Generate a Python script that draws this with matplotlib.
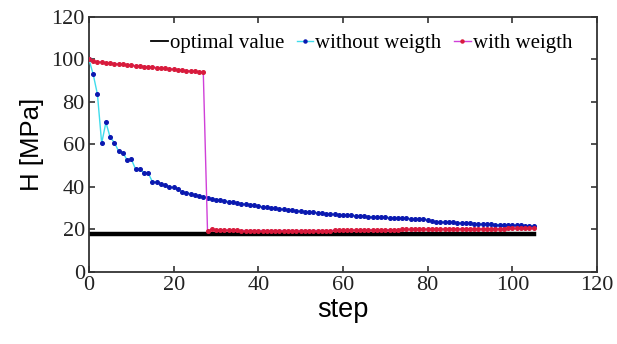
import matplotlib
matplotlib.use("Agg")
import matplotlib.pyplot as plt
import numpy as np

# optimisation history of H per step
steps = np.arange(106)
optimal_value = 18.0

without_weigth = [
    100.0, 93.0, 83.6, 60.6, 70.4, 63.4, 60.9, 56.9, 56.2, 52.7,
    53.0, 48.5, 48.5, 46.7, 46.5, 42.4, 42.4, 41.3, 41.0, 39.9,
    39.8, 38.9, 37.8, 37.2, 36.9, 36.3, 35.8, 35.3, 34.9, 34.5,
    34.1, 33.8, 33.5, 33.1, 32.8, 32.5, 32.2, 31.9, 31.6, 31.3,
    31.0, 30.7, 30.4, 30.2, 29.9, 29.7, 29.5, 29.2, 29.0, 28.8,
    28.6, 28.4, 28.2, 28.0, 27.8, 27.6, 27.4, 27.3, 27.1, 27.0,
    26.8, 26.7, 26.6, 26.5, 26.3, 26.2, 26.1, 26.0, 25.9, 25.8,
    25.7, 25.6, 25.5, 25.4, 25.3, 25.2, 25.1, 25.0, 24.9, 24.8,
    24.7, 23.8, 23.7, 23.6, 23.5, 23.4, 23.3, 23.2, 23.1, 23.0,
    22.9, 22.8, 22.7, 22.6, 22.5, 22.4, 22.3, 22.3, 22.2, 22.1,
    22.0, 21.9, 21.9, 21.8, 21.7, 21.6,
]

with_weigth = [
    100.2, 99.3, 99.0, 98.7, 98.5, 98.3, 98.1, 97.9, 97.7, 97.5,
    97.3, 97.1, 96.9, 96.7, 96.6, 96.4, 96.2, 96.0, 95.8, 95.6,
    95.4, 95.2, 95.0, 94.8, 94.6, 94.4, 94.2, 94.0, 19.2, 20.1,
    19.9, 19.8, 19.7, 19.7, 19.6, 19.6, 19.5, 19.5, 19.5, 19.5,
    19.5, 19.5, 19.5, 19.5, 19.5, 19.5, 19.5, 19.5, 19.5, 19.5,
    19.5, 19.5, 19.5, 19.5, 19.5, 19.5, 19.5, 19.5, 19.6, 19.6,
    19.6, 19.6, 19.7, 19.7, 19.7, 19.7, 19.8, 19.8, 19.8, 19.8,
    19.9, 19.9, 19.9, 19.9, 20.0, 20.0, 20.0, 20.0, 20.0, 20.1,
    20.1, 20.1, 20.1, 20.2, 20.2, 20.2, 20.2, 20.2, 20.3, 20.3,
    20.3, 20.3, 20.3, 20.4, 20.4, 20.4, 20.4, 20.4, 20.4, 20.5,
    20.5, 20.5, 20.5, 20.5, 20.5, 20.5,
]

serif = ["Liberation Serif", "DejaVu Serif"]
sans = ["Liberation Sans", "DejaVu Sans"]

fig = plt.figure(figsize=(6.17, 3.44), dpi=100)
ax = fig.add_axes([0.1442, 0.2093, 0.8234, 0.7413])

ax.plot(steps, [optimal_value] * len(steps), color="black", linewidth=3.2,
        label="optimal value", zorder=2)
ax.plot(steps, without_weigth, color="#3fdcec", linewidth=1.0,
        marker="o", markersize=2.6, markerfacecolor="#0a18b0",
        markeredgecolor="#0a18b0", label="without weigth", zorder=3)
ax.plot(steps, with_weigth, color="#d040d8", linewidth=1.0,
        marker="o", markersize=2.6, markerfacecolor="#d81b3c",
        markeredgecolor="#d81b3c", label="with weigth", zorder=4)

ax.set_xlim(0, 120)
ax.set_ylim(0, 120)
ax.set_xticks(np.arange(0, 121, 20))
ax.set_yticks(np.arange(0, 121, 20))
ax.tick_params(direction="in", top=True, right=True, length=4, width=1.2,
               color="#333333", labelsize=16, pad=3)
for lbl in ax.get_xticklabels() + ax.get_yticklabels():
    lbl.set_family(serif)
    lbl.set_color("#222222")
for sp in ax.spines.values():
    sp.set_linewidth(1.3)
    sp.set_color("#333333")

ax.set_xlabel("step", family=sans, fontsize=19.5, labelpad=1)
ax.set_ylabel("H [MPa]", family=sans, fontsize=18.5, labelpad=5)

leg = ax.legend(loc="upper left", bbox_to_anchor=(0.122, 0.935), ncol=3,
                frameon=False, prop={"family": serif, "size": 15},
                handlelength=0.8, handletextpad=0.1, columnspacing=0.6,
                borderpad=0, borderaxespad=0)
# keep the legend key of the reference line thin
leg.legend_handles[0].set_linewidth(1.3)
for h in leg.legend_handles[1:]:
    h.set_markersize(2.2)

fig.savefig("out.png", dpi=100)
plt.close(fig)
